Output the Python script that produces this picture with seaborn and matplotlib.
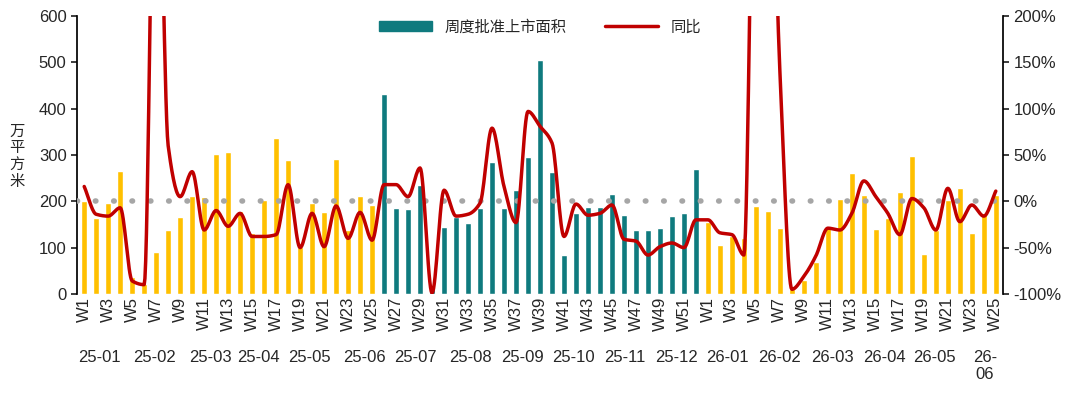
import numpy as np
import matplotlib
matplotlib.use("Agg")
import matplotlib.pyplot as plt
import seaborn as sns
from matplotlib.patches import Patch
from matplotlib.lines import Line2D

sns.set_theme(style="white")
plt.rcParams['font.family'] = ['Liberation Sans', 'Noto Sans CJK SC', 'DejaVu Sans']

# DATA
weeks_2025 = [f"W{i}" for i in range(1, 53)]
weeks_2026 = [f"W{i}" for i in range(1, 26)]
area_2025 = [200, 165, 196, 266, 36, 22, 91, 138, 167, 212, 210, 302, 307, 178, 131, 203,
             337, 289, 102, 197, 176, 291, 138, 212, 193,
             432, 185, 183, 235, 15, 145, 167, 154, 185, 284, 185, 224, 296, 506, 264, 84,
             174, 188, 188, 215, 170, 138, 138, 142, 169, 174, 270]
area_2026 = [156, 106, 125, 120, 190, 180, 143, 10, 30, 70, 145, 204, 262, 214, 140, 163,
             221, 298, 86, 138, 203, 229, 131, 175, 214]
yoy_2025 = [16, -14, -16, -7, -86, -90, 500, 60, 5, 32, -31, -10, -27, -13, -38, -38,
            -36, 18, -50, -13, -49, -5, -40, -12, -42,
            18, 18, 5, 36, -99, 12, -16, -14, -2, 79, 16, -23, 97, 81, 63, -38,
            -3, -15, -13, -4, -41, -43, -58, -49, -45, -50, -20]
yoy_2026 = [-20, -34, -36, -58, 500, 500, 140, -95, -81, -59, -29, -31, -13, 22, 5, -13,
            -36, 3, -7, -31, 14, -22, -4, -16, 11]
month_labels = ["25-01", "25-02", "25-03", "25-04", "25-05", "25-06", "25-07", "25-08",
                "25-09", "25-10", "25-11", "25-12", "26-01", "26-02", "26-03", "26-04",
                "26-05", "26-\n06"]
month_pos = [1.3, 5.9, 10.5, 14.5, 18.8, 23.4, 27.6, 32.2, 36.5, 40.8, 45.1, 49.4,
             53.6, 58, 62.4, 66.7, 70.9, 75.1]

YELLOW = "#FFC000"
TEAL = "#0F7A7E"
RED = "#C00000"

labels = weeks_2025 + weeks_2026
area = area_2025 + area_2026
yoy = np.array(yoy_2025 + yoy_2026, dtype=float)
n = len(labels)
x = np.arange(n)
colors = [TEAL if 25 <= i <= 51 else YELLOW for i in range(n)]


def smooth(xs, ys, k=16):
    # monotone cubic Hermite (Fritsch-Carlson) so the line does not overshoot
    d = np.diff(ys)
    m = np.zeros(len(ys))
    m[0], m[-1] = d[0], d[-1]
    for i in range(1, len(ys) - 1):
        if d[i - 1] * d[i] > 0:
            m[i] = 2 / (1 / d[i - 1] + 1 / d[i])
    px, py = [], []
    for i in range(len(xs) - 1):
        for t in np.linspace(0, 1, k, endpoint=False):
            h00 = 2 * t**3 - 3 * t**2 + 1
            h10 = t**3 - 2 * t**2 + t
            h01 = -2 * t**3 + 3 * t**2
            h11 = t**3 - t**2
            px.append(xs[i] + t)
            py.append(h00 * ys[i] + h10 * m[i] + h01 * ys[i + 1] + h11 * m[i + 1])
    px.append(xs[-1]); py.append(ys[-1])
    return np.array(px), np.array(py)


fig = plt.figure(figsize=(10.8, 4.01), dpi=100)
ax = fig.add_axes([0.0713, 0.267, 0.8574, 0.693])
sns.barplot(x=x, y=area, hue=x, palette=colors, legend=False, width=0.48,
            ax=ax, saturation=1)
ax.set_ylim(0, 600)
ax.set_xlim(-0.6, n - 0.4)
ax.set_yticks(range(0, 601, 100))
ax.set_xticks(x[::2])
ax.set_xticklabels(labels[::2], rotation=90, fontsize=12)
ax.tick_params(axis='y', labelsize=12, direction='out', length=4, left=True)
ax.tick_params(axis='x', length=0, pad=2)
ax.set_xlabel("")
ax.set_ylabel("")
fig.text(0.016, 0.61, "万\n平\n方\n米", ha='center', va='center', fontsize=11,
         linespacing=1.0, family=['Noto Sans CJK SC'])
for s in ["top", "right", "bottom"]:
    ax.spines[s].set_visible(False)
ax.spines["left"].set_color("black")

ax2 = ax.twinx()
ax2.set_ylim(-100, 200)
ax2.axhline(0, color="#A6A6A6", linestyle=(0, (0.1, 3.2)), linewidth=4,
            dash_capstyle='round')
sx, sy = smooth(x, yoy)
ax2.plot(sx, sy, color=RED, linewidth=2.5)
ax2.set_yticks(range(-100, 201, 50))
ax2.set_yticklabels([f"{v}%" for v in range(-100, 201, 50)], fontsize=12)
ax2.tick_params(axis='y', direction='out', length=4, right=True)
for s in ["top", "left", "bottom"]:
    ax2.spines[s].set_visible(False)
ax2.spines["right"].set_color("black")
ax2.set_xlim(-0.6, n - 0.4)

for lab, p in zip(month_labels, month_pos):
    ax.text(p, -0.2, lab, transform=ax.get_xaxis_transform(), ha='center',
            va='top', fontsize=12)

handles = [Patch(color=TEAL, label="周度批准上市面积"),
           Line2D([0], [0], color=RED, linewidth=2.5, label="同比")]
fig.legend(handles=handles, loc='upper center', bbox_to_anchor=(0.5, 0.985), ncol=2,
           frameon=False, fontsize=11, handlelength=3.5, columnspacing=2.5)

fig.savefig("out.png", dpi=100)
